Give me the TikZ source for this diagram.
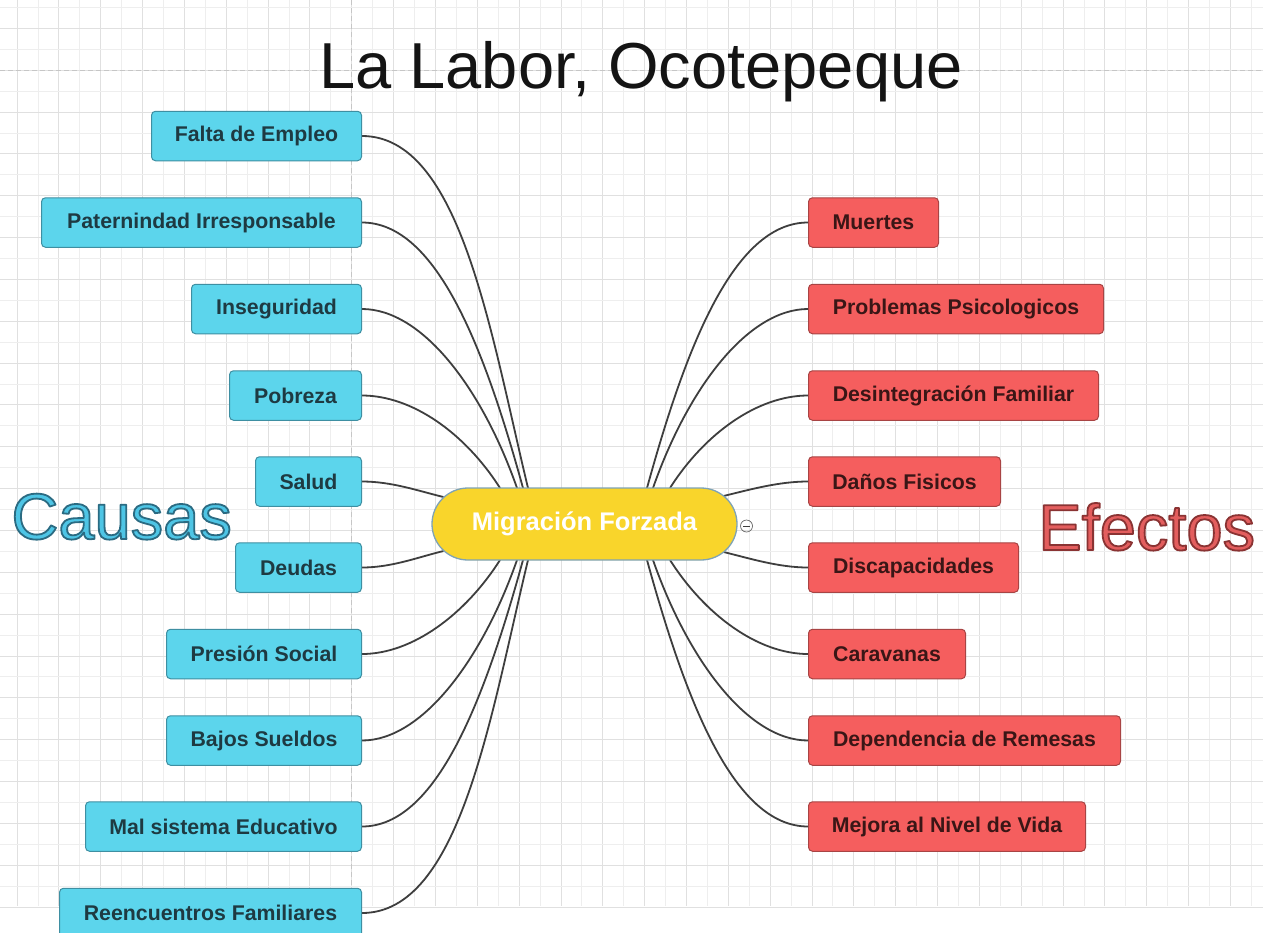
\documentclass[tikz,border=0pt]{standalone}
\usepackage{fontspec}
\setmainfont{Liberation Sans}
\usetikzlibrary{calc}
\pgfdeclarelayer{gridlayer}
\pgfdeclarelayer{linelayer}
\pgfsetlayers{gridlayer,linelayer,main}
\definecolor{gridminor}{HTML}{EEEEEE}
\definecolor{gridmajor}{HTML}{E0E0E0}
\definecolor{dashc}{HTML}{C6C6C6}
\definecolor{cyanfill}{HTML}{5CD5EC}
\definecolor{cyanline}{HTML}{3E8FA2}
\definecolor{cyantext}{HTML}{1E3A42}
\definecolor{redfill}{HTML}{F55E5E}
\definecolor{redline}{HTML}{A84444}
\definecolor{redtext}{HTML}{3A1616}
\definecolor{yellowfill}{HTML}{F9D52B}
\definecolor{yellowline}{HTML}{7FA3B5}
\definecolor{connc}{HTML}{3E3E3E}
\definecolor{titlec}{HTML}{141414}
\definecolor{causafill}{HTML}{4EC5E5}
\definecolor{efectofill}{HTML}{E35E5E}
% outlined text: stroke colour given as PDF rgb triple
\newcommand{\outlinedword}[2]{\special{pdf:literal direct 2 Tr #1 RG 1.8 w 1 j}#2\special{pdf:literal direct 0 Tr 0 0 0 RG 0.4 w 0 j}}
\begin{document}
\begin{tikzpicture}[x=1pt,y=-1pt,
  box/.style={draw, rounded corners=4pt, line width=1pt, minimum height=49.5pt,
    inner sep=0pt, font=\fontsize{21.3}{25}\selectfont\bfseries},
  cause/.style={box, fill=cyanfill, draw=cyanline, text=cyantext, anchor=east},
  effect/.style={box, fill=redfill, draw=redline, text=redtext, anchor=west},
  central/.style={draw=yellowline, fill=yellowfill, line width=1.3pt,
    rounded corners=36pt, minimum width=305pt, minimum height=72pt, inner sep=0pt,
    text=white, font=\fontsize{25.5}{30}\selectfont\bfseries},
  conn/.style={draw=connc, line width=1.8pt},
  bigword/.style={anchor=base, inner sep=0pt, font=\fontsize{65}{70}\selectfont},
  gridline/.style={draw=gridminor, line width=0.8pt},
  gridline2/.style={draw=gridmajor, line width=0.8pt}]
\useasboundingbox (0,0) rectangle (1263,932);

% grid
\begin{pgfonlayer}{gridlayer}
\fill[white] (0,0) rectangle (1263,932);
\foreach \k in {0,...,59}{
  \pgfmathsetmacro{\gx}{17+20.92*\k}
  \pgfmathparse{mod(\k,2)==0?1:0}
  \ifnum\pgfmathresult=1
    \draw[gridline2] (\gx,0) -- (\gx,906);
  \else
    \draw[gridline] (\gx,0) -- (\gx,906);
  \fi
}
\foreach \k in {-1,...,42}{
  \pgfmathsetmacro{\gy}{28.3+20.92*\k}
  \pgfmathparse{mod(\k+2,2)==0?1:0}
  \ifnum\pgfmathresult=1
    \draw[gridline2] (0,\gy) -- (1263,\gy);
  \else
    \draw[gridline] (0,\gy) -- (1263,\gy);
  \fi
}
\draw[dashc, line width=1pt, dash pattern=on 5pt off 3pt] (351.7,0) -- (351.7,906);
\draw[dashc, line width=1pt, dash pattern=on 5pt off 3pt] (0,70) -- (1263,70);
\end{pgfonlayer}

% title
\node[bigword, text=titlec] (title) at (641,88) {La Labor, Ocotepeque};

% side labels with outline
\node[bigword, text=causafill] (causas) at (121.7,539) {\outlinedword{0.17 0.42 0.51}{Causas}};
\node[bigword, text=efectofill] (efectos) at (1146.7,550) {\outlinedword{0.54 0.2 0.2}{Efectos}};

% central topic
\node[central] (c) at (584.5,524) {Migración Forzada};
\node[circle, draw=connc!80, line width=0.7pt, minimum size=12pt, inner sep=0pt] (collapse) at (746.5,526) {};
\draw[connc, line width=0.8pt] ($(collapse.center)+(-3.5,0)$) -- ($(collapse.center)+(3.5,0)$);

% causes
\node[cause, minimum width=210pt] (l1) at (362,136) {Falta de Empleo};
\node[cause, minimum width=320pt] (l2) at (362,222.5) {Paternindad Irresponsable};
\node[cause, minimum width=170pt] (l3) at (362,309) {Inseguridad};
\node[cause, minimum width=132pt] (l4) at (362,395.5) {Pobreza};
\node[cause, minimum width=106pt] (l5) at (362,481.5) {Salud};
\node[cause, minimum width=126pt] (l6) at (362,567.5) {Deudas};
\node[cause, minimum width=195pt] (l7) at (362,654) {Presión Social};
\node[cause, minimum width=195pt] (l8) at (362,740.5) {Bajos Sueldos};
\node[cause, minimum width=276pt] (l9) at (362,826.5) {Mal sistema Educativo};
\node[cause, minimum width=302pt] (l10) at (362,913) {Reencuentros Familiares};

% effects
\node[effect, minimum width=130pt] (r1) at (808,222.5) {Muertes};
\node[effect, minimum width=295pt] (r2) at (808,309) {Problemas Psicologicos};
\node[effect, minimum width=290pt] (r3) at (808,395.5) {Desintegración Familiar};
\node[effect, minimum width=192pt] (r4) at (808,481.5) {Daños Fisicos};
\node[effect, minimum width=210pt] (r5) at (808,567.5) {Discapacidades};
\node[effect, minimum width=157pt] (r6) at (808,654) {Caravanas};
\node[effect, minimum width=312pt] (r7) at (808,740.5) {Dependencia de Remesas};
\node[effect, minimum width=277pt] (r8) at (808,826.5) {Mejora al Nivel de Vida};

% connectors
\begin{pgfonlayer}{linelayer}
\draw[conn] (l1.east) .. controls +(98,0) and +(-38,-158) .. ($(c.center)+(-56.5,-36)$);
\draw[conn] (l2.east) .. controls +(75,0) and +(-38,-138) .. ($(c.center)+(-61.5,-36)$);
\draw[conn] (l3.east) .. controls +(60,0) and +(-35,-100) .. ($(c.center)+(-67.5,-36)$);
\draw[conn] (l4.east) .. controls +(50,0) and +(-35,-55) .. ($(c.center)+(-84.5,-36)$);
\draw[conn] (l5.east) .. controls +(30,0) and +(-25,-6) .. ($(c.center)+(-141,-27)$);
\draw[conn] (l6.east) .. controls +(30,0) and +(-25,6) .. ($(c.center)+(-141,27)$);
\draw[conn] (l7.east) .. controls +(50,0) and +(-35,55) .. ($(c.center)+(-84.5,36)$);
\draw[conn] (l8.east) .. controls +(60,0) and +(-35,100) .. ($(c.center)+(-67.5,36)$);
\draw[conn] (l9.east) .. controls +(75,0) and +(-38,138) .. ($(c.center)+(-61.5,36)$);
\draw[conn] (l10.east) .. controls +(98,0) and +(-38,158) .. ($(c.center)+(-56.5,36)$);

\draw[conn] (r1.west) .. controls +(-75,0) and +(38,-138) .. ($(c.center)+(62.5,-36)$);
\draw[conn] (r2.west) .. controls +(-60,0) and +(35,-100) .. ($(c.center)+(68.5,-36)$);
\draw[conn] (r3.west) .. controls +(-50,0) and +(35,-55) .. ($(c.center)+(85.5,-36)$);
\draw[conn] (r4.west) .. controls +(-30,0) and +(25,-6) .. ($(c.center)+(139,-28)$);
\draw[conn] (r5.west) .. controls +(-30,0) and +(25,6) .. ($(c.center)+(139,28)$);
\draw[conn] (r6.west) .. controls +(-50,0) and +(35,55) .. ($(c.center)+(85.5,36)$);
\draw[conn] (r7.west) .. controls +(-60,0) and +(35,100) .. ($(c.center)+(68.5,36)$);
\draw[conn] (r8.west) .. controls +(-75,0) and +(38,138) .. ($(c.center)+(62.5,36)$);
\end{pgfonlayer}
\end{tikzpicture}
\end{document}
